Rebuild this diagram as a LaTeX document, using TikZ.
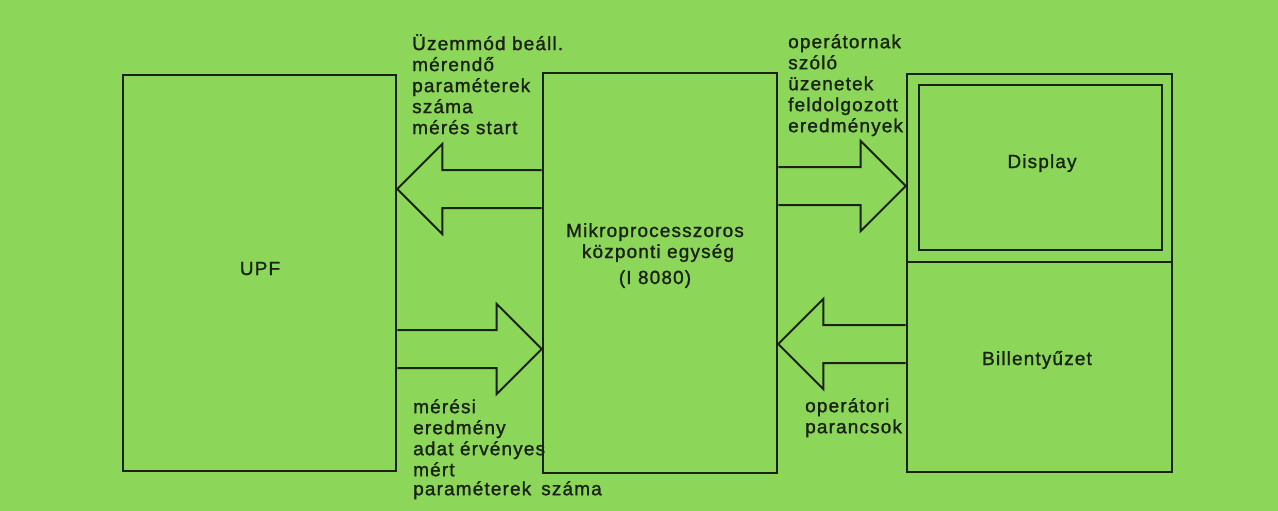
\documentclass[tikz,border=0pt]{standalone}
\usepackage{fontspec}
\setmainfont{Liberation Sans}[LetterSpace=6,FakeBold=1.3]
\usetikzlibrary{calc}
\definecolor{paper}{RGB}{140,214,90}
\definecolor{ink}{RGB}{26,34,20}
% hollow block arrow: #1 tip, #2 tail, #3 = +1 head opens to the right, -1 to the left
\newcommand{\hollowarrow}[3]{%
  \draw[arr] ($(#2)+(0,-19)$) -- ($(#1)+(#3*45,-19)$) -- ($(#1)+(#3*45,-45)$)
    -- (#1) -- ($(#1)+(#3*45,45)$) -- ($(#1)+(#3*45,19)$) -- ($(#2)+(0,19)$);}
\begin{document}
\begin{tikzpicture}[x=1pt,y=-1pt,
  box/.style={draw=ink,line width=2.6pt,inner sep=0pt,rectangle},
  arr/.style={draw=ink,line width=2pt,line join=miter},
  lbl/.style={text=ink,font=\fontsize{19}{21}\selectfont,inner sep=0pt,anchor=base},
  note/.style={text=ink,font=\fontsize{19}{21}\selectfont,inner sep=0pt,align=left,anchor=north west}]
\fill[paper] (0,0) rectangle (1278,511);
\useasboundingbox (0,0) rectangle (1278,511);

% blocks
\node[box,minimum width=273pt,minimum height=396pt] (upf) at (259.5,273) {};
\node[box,minimum width=234pt,minimum height=400pt] (cpu) at (660,273) {};
\node[box,minimum width=265pt,minimum height=188pt] (dispframe) at (1039.5,168) {};
\node[box,minimum width=243pt,minimum height=165pt] (disp) at (1040.5,167.5) {};
\node[box,minimum width=265pt,minimum height=210pt] (kbd) at (1039.5,367) {};

% block titles
\node[lbl] (upflbl) at (260,275) {UPF};
\node[lbl] (displbl) at (1042,168) {Display};
\node[lbl] (kbdlbl) at (1037,365) {Billentyűzet};
\node[lbl] (cpul1) at (655,237) {Mikroprocesszoros};
\node[lbl] (cpul2) at (658,258) {központi egység};
\node[lbl] (cpul3) at (655,284) {(I 8080)};

% arrow end points on the block edges
\coordinate (a1t) at (upf.east |- 0,189);
\coordinate (a1s) at (cpu.west |- 0,189);
\coordinate (a2t) at (cpu.west |- 0,349);
\coordinate (a2s) at (upf.east |- 0,349);
\coordinate (a3t) at (dispframe.west |- 0,186);
\coordinate (a3s) at (cpu.east |- 0,186);
\coordinate (a4t) at (cpu.east |- 0,344);
\coordinate (a4s) at (kbd.west |- 0,344);

\hollowarrow{a1t}{a1s}{1}
\hollowarrow{a2t}{a2s}{-1}
\hollowarrow{a3t}{a3s}{-1}
\hollowarrow{a4t}{a4s}{1}

% signal descriptions
\node[note] (n1) at (412,34) {Üzemmód beáll.\\mérendő\\paraméterek\\száma\\mérés start};
\node[note] (n2) at (413,399) {mérési\\eredmény\\adat érvényes\\mért\\[-2pt]paraméterek\hspace{10pt}száma};
\node[note] (n3) at (788,34) {operátornak\\szóló\\üzenetek\\feldolgozott\\eredmények};
\node[note] (n4) at (805,398) {operátori\\parancsok};
\end{tikzpicture}
\end{document}
